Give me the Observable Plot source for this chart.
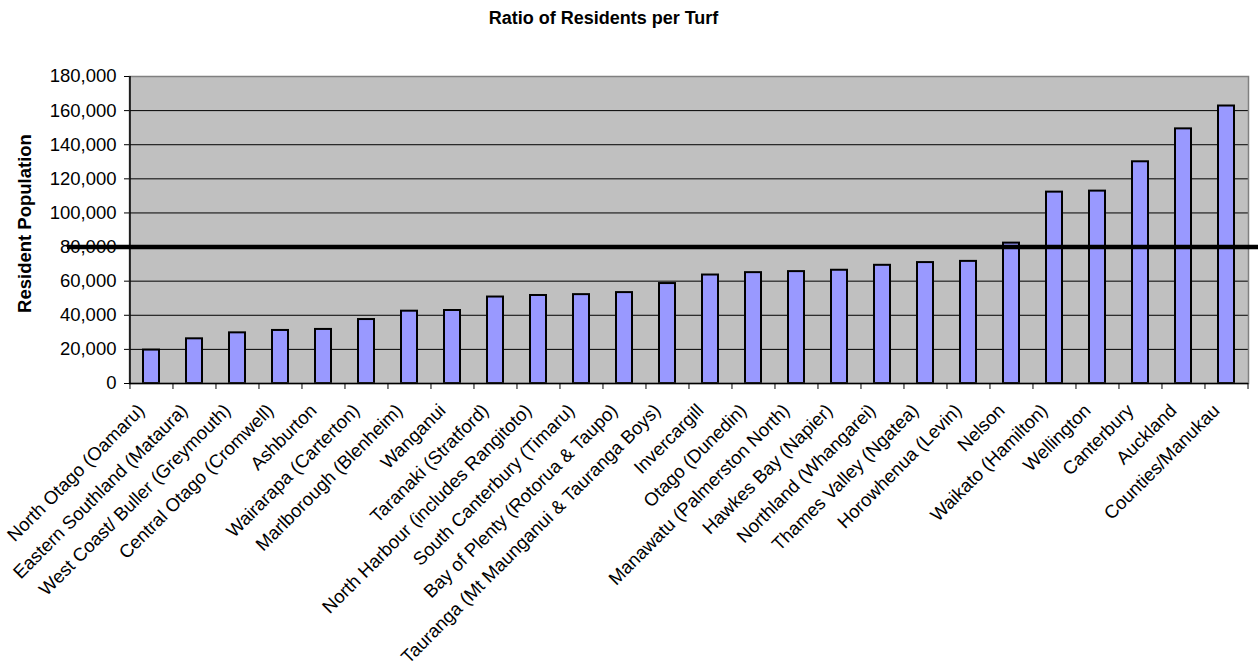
<!DOCTYPE html>
<html>
<head>
<meta charset="utf-8">
<script src="https://cdn.jsdelivr.net/npm/d3@7"></script>
<script src="https://cdn.jsdelivr.net/npm/@observablehq/plot@0.6"></script>
<style>
  body { margin: 0; background: #fff; font-family: "Liberation Sans", Arial, sans-serif; }
  #wrap { position: relative; width: 1258px; height: 666px; }
  #title { position: absolute; left: 0; top: 8px; width: 1207px; text-align: center;
           font-weight: bold; font-size: 18px; line-height: 20px; color: #000; }
  #chart { position: absolute; left: 0; top: 0; }
</style>
</head>
<body>
<div id="wrap">
  <div id="chart"></div>
  <div id="title">Ratio of Residents per Turf</div>
</div>
<script>
const regions = [
  "North Otago (Oamaru)",
  "Eastern Southland (Mataura)",
  "West Coast/ Buller (Greymouth)",
  "Central Otago (Cromwell)",
  "Ashburton",
  "Wairarapa (Carterton)",
  "Marlborough (Blenheim)",
  "Wanganui",
  "Taranaki (Stratford)",
  "North Harbour (includes Rangitoto)",
  "South Canterbury (Timaru)",
  "Bay of Plenty (Rotorua & Taupo)",
  "Tauranga (Mt Maunganui & Tauranga Boys)",
  "Invercargill",
  "Otago (Dunedin)",
  "Manawatu (Palmerston North)",
  "Hawkes Bay (Napier)",
  "Northland (Whangarei)",
  "Thames Valley (Ngatea)",
  "Horowhenua (Levin)",
  "Nelson",
  "Waikato (Hamilton)",
  "Wellington",
  "Canterbury",
  "Auckland",
  "Counties/Manukau"
];
const population = [
  19600, 26200, 29700, 31100, 31700, 37500, 42400, 42800, 50700, 51600,
  52100, 53300, 58600, 63600, 65000, 65600, 66400, 69300, 70900, 71600,
  82300, 112200, 112800, 130000, 149300, 162700
];
const yTicks = [0, 20000, 40000, 60000, 80000, 100000, 120000, 140000, 160000, 180000];
const threshold = [80000];
const yTitle = ["Resident Population"];

const data = regions.map((r, i) => ({region: r, population: population[i]}));

const W = 1258, H = 666, mL = 129, mR = 10, mT = 76, mB = 283;
const step = (W - mL - mR) / regions.length;
const font = "Liberation Sans, Arial, sans-serif";

const chart = Plot.plot({
  width: W,
  height: H,
  marginLeft: mL,
  marginRight: mR,
  marginTop: mT,
  marginBottom: mB,
  style: {fontFamily: font, fontSize: "18px", color: "black", background: "transparent"},
  x: {domain: regions, paddingInner: 0.62, paddingOuter: 0.31, axis: null},
  y: {domain: [0, 180000]},
  marks: [
    Plot.frame({fill: "#c0c0c0"}),
    Plot.gridY(yTicks, {stroke: "#000", strokeOpacity: 1, strokeWidth: 1}),
    Plot.barY(data, {x: "region", y: "population", fill: "#9999ff", stroke: "#000", strokeWidth: 2}),
    Plot.frame({stroke: "#808080", strokeWidth: 1.5}),
    Plot.ruleY([0], {stroke: "#000", strokeWidth: 1.5}),
    Plot.ruleX([regions[0]], {x: d => d, dx: -step / 2, stroke: "#000", strokeWidth: 1.5}),
    Plot.ruleX(regions, {x: d => d, y1: 0, y2: 0, dx: -step / 2, insetBottom: -6, stroke: "#000"}),
    Plot.ruleX([regions[regions.length - 1]], {x: d => d, y1: 0, y2: 0, dx: step / 2, insetBottom: -6, stroke: "#000"}),
    Plot.ruleY(threshold, {stroke: "#000", strokeWidth: 4.5, insetLeft: -62, insetRight: -10}),
    Plot.axisY(yTicks, {tickFormat: d3.format(","), tickSize: 5, tickPadding: 8, fontSize: 18.5, label: null}),
    Plot.text(regions, {
      x: d => d, text: d => d, frameAnchor: "bottom", dx: -10, dy: 24,
      rotate: -45, textAnchor: "end", lineAnchor: "middle", fontSize: 18.5, fill: "#000"
    }),
    Plot.text(yTitle, {
      text: d => d, frameAnchor: "left", dx: -104, dy: -6.5, rotate: -90,
      textAnchor: "middle", lineAnchor: "middle",
      fontWeight: "bold", fontSize: 18.5, fill: "#000"
    })
  ]
});
document.getElementById("chart").appendChild(chart);
</script>
</body>
</html>
